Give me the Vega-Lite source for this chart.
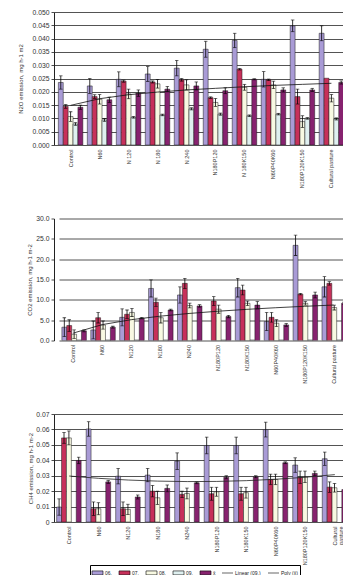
{
  "$schema": "https://vega.github.io/schema/vega-lite/v6.json",
  "background": "#ffffff",
  "padding": {"left": 16, "top": 9, "right": 0, "bottom": 0},
  "bounds": "flush",
  "spacing": 73.5,
  "config": {
    "font": "Liberation Sans",
    "view": {"stroke": null},
    "axis": {"labelFont": "Liberation Sans", "titleFont": "Liberation Sans", "labelColor": "#333333", "titleColor": "#333333", "titleFontWeight": "normal", "domainColor": "#222222", "tickColor": "#222222", "domainWidth": 1, "tickWidth": 0.8},
    "axisX": {"labelAngle": -90, "labelFontSize": 5.5, "ticks": false, "domain": false, "grid": false, "labelPadding": 4},
    "axisY": {"labelFontSize": 6.8, "titleFontSize": 6, "tickSize": 3, "labelPadding": 2, "gridColor": "#404040", "gridWidth": 0.9, "grid": true, "titleBaseline": "middle", "tickCount": 20, "labelOverlap": false}
  },
  "resolve": {"scale": {"color": "shared"}, "legend": {"color": "shared"}},
  "datasets": {
    "n2o": [
      {"g": "Control", "s": "06.", "v": 0.0235, "hi": 0.026, "lo": 0.021},
      {"g": "Control", "s": "07.", "v": 0.0145, "hi": 0.0152, "lo": 0.0138},
      {"g": "Control", "s": "08.", "v": 0.0107, "hi": 0.0125, "lo": 0.0089},
      {"g": "Control", "s": "09.", "v": 0.0079, "hi": 0.0084, "lo": 0.0074},
      {"g": "Control", "s": "x̄", "v": 0.0142, "hi": 0.015, "lo": 0.0134},
      {"g": "N60", "s": "06.", "v": 0.0222, "hi": 0.025, "lo": 0.0194},
      {"g": "N60", "s": "07.", "v": 0.0182, "hi": 0.0189, "lo": 0.0175},
      {"g": "N60", "s": "08.", "v": 0.0172, "hi": 0.019, "lo": 0.0154},
      {"g": "N60", "s": "09.", "v": 0.0094, "hi": 0.0099, "lo": 0.0089},
      {"g": "N60", "s": "x̄", "v": 0.017, "hi": 0.018, "lo": 0.016},
      {"g": "N 120", "s": "06.", "v": 0.0247, "hi": 0.0275, "lo": 0.0219},
      {"g": "N 120", "s": "07.", "v": 0.024, "hi": 0.0244, "lo": 0.0236},
      {"g": "N 120", "s": "08.", "v": 0.0192, "hi": 0.021, "lo": 0.0174},
      {"g": "N 120", "s": "09.", "v": 0.0104, "hi": 0.0107, "lo": 0.0101},
      {"g": "N 120", "s": "x̄", "v": 0.0195, "hi": 0.0207, "lo": 0.0183},
      {"g": "N 180", "s": "06.", "v": 0.0267, "hi": 0.0295, "lo": 0.0239},
      {"g": "N 180", "s": "07.", "v": 0.0237, "hi": 0.0241, "lo": 0.0233},
      {"g": "N 180", "s": "08.", "v": 0.023, "hi": 0.0246, "lo": 0.0214},
      {"g": "N 180", "s": "09.", "v": 0.0113, "hi": 0.0116, "lo": 0.011},
      {"g": "N 180", "s": "x̄", "v": 0.021, "hi": 0.022, "lo": 0.02},
      {"g": "N 240", "s": "06.", "v": 0.0289, "hi": 0.0318, "lo": 0.026},
      {"g": "N 240", "s": "07.", "v": 0.0245, "hi": 0.025, "lo": 0.024},
      {"g": "N 240", "s": "08.", "v": 0.0226, "hi": 0.0245, "lo": 0.0207},
      {"g": "N 240", "s": "09.", "v": 0.0136, "hi": 0.014, "lo": 0.0132},
      {"g": "N 240", "s": "x̄", "v": 0.0222, "hi": 0.0237, "lo": 0.0207},
      {"g": "N180P120", "s": "06.", "v": 0.036, "hi": 0.039, "lo": 0.033},
      {"g": "N180P120", "s": "07.", "v": 0.0178, "hi": 0.0181, "lo": 0.0175},
      {"g": "N180P120", "s": "08.", "v": 0.016, "hi": 0.0175, "lo": 0.0145},
      {"g": "N180P120", "s": "09.", "v": 0.0116, "hi": 0.012, "lo": 0.0112},
      {"g": "N180P120", "s": "x̄", "v": 0.0204, "hi": 0.0215, "lo": 0.0193},
      {"g": "N 180K150", "s": "06.", "v": 0.0393, "hi": 0.042, "lo": 0.0366},
      {"g": "N 180K150", "s": "07.", "v": 0.0285, "hi": 0.0288, "lo": 0.0282},
      {"g": "N 180K150", "s": "08.", "v": 0.0217, "hi": 0.0228, "lo": 0.0206},
      {"g": "N 180K150", "s": "09.", "v": 0.011, "hi": 0.0113, "lo": 0.0107},
      {"g": "N 180K150", "s": "x̄", "v": 0.0247, "hi": 0.0249, "lo": 0.0245},
      {"g": "N60P40K60", "s": "06.", "v": 0.0247, "hi": 0.0276, "lo": 0.0218},
      {"g": "N60P40K60", "s": "07.", "v": 0.0245, "hi": 0.0248, "lo": 0.0242},
      {"g": "N60P40K60", "s": "08.", "v": 0.0226, "hi": 0.024, "lo": 0.0212},
      {"g": "N60P40K60", "s": "09.", "v": 0.0116, "hi": 0.0119, "lo": 0.0113},
      {"g": "N60P40K60", "s": "x̄", "v": 0.0207, "hi": 0.0215, "lo": 0.0199},
      {"g": "N180P120K150", "s": "06.", "v": 0.0448, "hi": 0.047, "lo": 0.0426},
      {"g": "N180P120K150", "s": "07.", "v": 0.0182, "hi": 0.021, "lo": 0.0154},
      {"g": "N180P120K150", "s": "08.", "v": 0.0088, "hi": 0.011, "lo": 0.0066},
      {"g": "N180P120K150", "s": "09.", "v": 0.01, "hi": 0.0103, "lo": 0.0097},
      {"g": "N180P120K150", "s": "x̄", "v": 0.0207, "hi": 0.0213, "lo": 0.0201},
      {"g": "Cultural pasture", "s": "06.", "v": 0.042, "hi": 0.0448, "lo": 0.0392},
      {"g": "Cultural pasture", "s": "07.", "v": 0.0251},
      {"g": "Cultural pasture", "s": "08.", "v": 0.0176, "hi": 0.019, "lo": 0.0162},
      {"g": "Cultural pasture", "s": "09.", "v": 0.0098, "hi": 0.0102, "lo": 0.0094},
      {"g": "Cultural pasture", "s": "x̄", "v": 0.0235, "hi": 0.0241, "lo": 0.0229}
    ],
    "n2oT": [
      {"g": "Control", "t": 0.0149}, {"g": "N60", "t": 0.0174}, {"g": "N 120", "t": 0.0189}, {"g": "N 180", "t": 0.0199}, {"g": "N 240", "t": 0.0207},
      {"g": "N180P120", "t": 0.0213}, {"g": "N 180K150", "t": 0.0219}, {"g": "N60P40K60", "t": 0.0224}, {"g": "N180P120K150", "t": 0.0228}, {"g": "Cultural pasture", "t": 0.0232}
    ],
    "co2": [
      {"g": "Control", "s": "06.", "v": 3.27, "hi": 5.6, "lo": 0.94},
      {"g": "Control", "s": "07.", "v": 3.68, "hi": 5.1, "lo": 2.26},
      {"g": "Control", "s": "08.", "v": 1.55, "hi": 2.6, "lo": 0.5},
      {"g": "Control", "s": "09.", "v": 0.12},
      {"g": "Control", "s": "x̄", "v": 2.37, "hi": 2.6, "lo": 2.14},
      {"g": "N60", "s": "06.", "v": 2.6, "hi": 4.8, "lo": 0.4},
      {"g": "N60", "s": "07.", "v": 5.6, "hi": 6.9, "lo": 4.3},
      {"g": "N60", "s": "08.", "v": 3.8, "hi": 4.8, "lo": 2.8},
      {"g": "N60", "s": "09.", "v": 0.12},
      {"g": "N60", "s": "x̄", "v": 3.27, "hi": 3.5, "lo": 3.04},
      {"g": "N120", "s": "06.", "v": 5.7, "hi": 7.8, "lo": 3.6},
      {"g": "N120", "s": "07.", "v": 6.45, "hi": 7.5, "lo": 5.4},
      {"g": "N120", "s": "08.", "v": 6.9, "hi": 7.9, "lo": 5.9},
      {"g": "N120", "s": "09.", "v": 0.12},
      {"g": "N120", "s": "x̄", "v": 5.5, "hi": 5.7, "lo": 5.3},
      {"g": "N180", "s": "06.", "v": 12.8, "hi": 14.9, "lo": 10.7},
      {"g": "N180", "s": "07.", "v": 9.4, "hi": 10.4, "lo": 8.4},
      {"g": "N180", "s": "08.", "v": 5.6, "hi": 6.9, "lo": 4.3},
      {"g": "N180", "s": "09.", "v": 0.12},
      {"g": "N180", "s": "x̄", "v": 7.5, "hi": 7.7, "lo": 7.3},
      {"g": "N240", "s": "06.", "v": 11.2, "hi": 13.2, "lo": 9.2},
      {"g": "N240", "s": "07.", "v": 14.05, "hi": 15.3, "lo": 12.8},
      {"g": "N240", "s": "08.", "v": 8.6, "hi": 9.2, "lo": 8.0},
      {"g": "N240", "s": "09.", "v": 0.12},
      {"g": "N240", "s": "x̄", "v": 8.5, "hi": 8.8, "lo": 8.2},
      {"g": "N180P120", "s": "07.", "v": 9.7, "hi": 10.8, "lo": 8.6},
      {"g": "N180P120", "s": "08.", "v": 7.7, "hi": 8.7, "lo": 6.7},
      {"g": "N180P120", "s": "09.", "v": 0.12},
      {"g": "N180P120", "s": "x̄", "v": 5.9, "hi": 6.2, "lo": 5.6},
      {"g": "N180K150", "s": "06.", "v": 13.0, "hi": 15.3, "lo": 10.7},
      {"g": "N180K150", "s": "07.", "v": 12.4, "hi": 13.6, "lo": 11.2},
      {"g": "N180K150", "s": "08.", "v": 9.15, "hi": 9.7, "lo": 8.6},
      {"g": "N180K150", "s": "09.", "v": 0.12},
      {"g": "N180K150", "s": "x̄", "v": 8.7, "hi": 9.6, "lo": 7.8},
      {"g": "N60P40K60", "s": "06.", "v": 4.66, "hi": 6.9, "lo": 2.42},
      {"g": "N60P40K60", "s": "07.", "v": 5.7, "hi": 6.9, "lo": 4.5},
      {"g": "N60P40K60", "s": "08.", "v": 4.25, "hi": 5.1, "lo": 3.4},
      {"g": "N60P40K60", "s": "09.", "v": 0.12},
      {"g": "N60P40K60", "s": "x̄", "v": 3.84, "hi": 4.2, "lo": 3.48},
      {"g": "N180P120K150", "s": "06.", "v": 23.4, "hi": 25.9, "lo": 20.9},
      {"g": "N180P120K150", "s": "07.", "v": 11.4, "hi": 11.6, "lo": 11.2},
      {"g": "N180P120K150", "s": "08.", "v": 9.15, "hi": 9.6, "lo": 8.7},
      {"g": "N180P120K150", "s": "09.", "v": 0.12},
      {"g": "N180P120K150", "s": "x̄", "v": 11.2, "hi": 11.9, "lo": 10.5},
      {"g": "Cultural pasture", "s": "06.", "v": 13.2, "hi": 15.7, "lo": 10.7},
      {"g": "Cultural pasture", "s": "07.", "v": 14.05, "hi": 14.5, "lo": 13.6},
      {"g": "Cultural pasture", "s": "08.", "v": 8.1, "hi": 8.7, "lo": 7.5},
      {"g": "Cultural pasture", "s": "09.", "v": 0.12},
      {"g": "Cultural pasture", "s": "x̄", "v": 9.15, "hi": 9.4, "lo": 8.9}
    ],
    "co2T": [
      {"g": "Control", "t": 1.84}, {"g": "N60", "t": 3.91}, {"g": "N120", "t": 5.12}, {"g": "N180", "t": 5.98}, {"g": "N240", "t": 6.65},
      {"g": "N180P120", "t": 7.2}, {"g": "N180K150", "t": 7.66}, {"g": "N60P40K60", "t": 8.06}, {"g": "N180P120K150", "t": 8.41}, {"g": "Cultural pasture", "t": 8.72}
    ],
    "ch4": [
      {"g": "Control", "s": "06.", "v": 0.0097, "hi": 0.015, "lo": 0.0044},
      {"g": "Control", "s": "07.", "v": 0.0545, "hi": 0.058, "lo": 0.051},
      {"g": "Control", "s": "08.", "v": 0.0545, "hi": 0.059, "lo": 0.05},
      {"g": "Control", "s": "x̄", "v": 0.0399, "hi": 0.042, "lo": 0.0378},
      {"g": "N60", "s": "06.", "v": 0.0603, "hi": 0.065, "lo": 0.0556},
      {"g": "N60", "s": "07.", "v": 0.0086, "hi": 0.013, "lo": 0.0042},
      {"g": "N60", "s": "08.", "v": 0.0086, "hi": 0.0125, "lo": 0.0047},
      {"g": "N60", "s": "x̄", "v": 0.026, "hi": 0.027, "lo": 0.025},
      {"g": "N120", "s": "06.", "v": 0.0297, "hi": 0.0347, "lo": 0.0247},
      {"g": "N120", "s": "07.", "v": 0.0086, "hi": 0.013, "lo": 0.0042},
      {"g": "N120", "s": "08.", "v": 0.0082, "hi": 0.0115, "lo": 0.0049},
      {"g": "N120", "s": "x̄", "v": 0.0162, "hi": 0.0175, "lo": 0.0149},
      {"g": "N180", "s": "06.", "v": 0.0304, "hi": 0.0347, "lo": 0.0261},
      {"g": "N180", "s": "07.", "v": 0.02, "hi": 0.0237, "lo": 0.0163},
      {"g": "N180", "s": "08.", "v": 0.0157, "hi": 0.02, "lo": 0.0114},
      {"g": "N180", "s": "x̄", "v": 0.0218, "hi": 0.024, "lo": 0.0196},
      {"g": "N240", "s": "06.", "v": 0.0394, "hi": 0.0448, "lo": 0.034},
      {"g": "N240", "s": "07.", "v": 0.0179, "hi": 0.02, "lo": 0.0158},
      {"g": "N240", "s": "08.", "v": 0.0185, "hi": 0.022, "lo": 0.015},
      {"g": "N240", "s": "x̄", "v": 0.0254, "hi": 0.026, "lo": 0.0248},
      {"g": "N180P120", "s": "06.", "v": 0.0496, "hi": 0.055, "lo": 0.0442},
      {"g": "N180P120", "s": "07.", "v": 0.0183, "hi": 0.0225, "lo": 0.0141},
      {"g": "N180P120", "s": "08.", "v": 0.0196, "hi": 0.0225, "lo": 0.0167},
      {"g": "N180P120", "s": "x̄", "v": 0.029, "hi": 0.03, "lo": 0.028},
      {"g": "N180K150", "s": "06.", "v": 0.0496, "hi": 0.055, "lo": 0.0442},
      {"g": "N180K150", "s": "07.", "v": 0.0183, "hi": 0.0225, "lo": 0.0141},
      {"g": "N180K150", "s": "08.", "v": 0.019, "hi": 0.0225, "lo": 0.0155},
      {"g": "N180K150", "s": "x̄", "v": 0.0293, "hi": 0.03, "lo": 0.0286},
      {"g": "N60P40K60", "s": "06.", "v": 0.0599, "hi": 0.0647, "lo": 0.0551},
      {"g": "N60P40K60", "s": "07.", "v": 0.0276, "hi": 0.031, "lo": 0.0242},
      {"g": "N60P40K60", "s": "08.", "v": 0.0276, "hi": 0.031, "lo": 0.0242},
      {"g": "N60P40K60", "s": "x̄", "v": 0.0384, "hi": 0.039, "lo": 0.0378},
      {"g": "N180P120K150", "s": "06.", "v": 0.0369, "hi": 0.0416, "lo": 0.0322},
      {"g": "N180P120K150", "s": "07.", "v": 0.029, "hi": 0.033, "lo": 0.025},
      {"g": "N180P120K150", "s": "08.", "v": 0.0293, "hi": 0.033, "lo": 0.0256},
      {"g": "N180P120K150", "s": "x̄", "v": 0.0315, "hi": 0.033, "lo": 0.03},
      {"g": "Cultural pasture", "s": "06.", "v": 0.041, "hi": 0.0453, "lo": 0.0367},
      {"g": "Cultural pasture", "s": "07.", "v": 0.0226, "hi": 0.026, "lo": 0.0192},
      {"g": "Cultural pasture", "s": "08.", "v": 0.0222, "hi": 0.025, "lo": 0.0194},
      {"g": "Cultural pasture", "s": "x̄", "v": 0.021}
    ],
    "ch4T": [
      {"g": "Control", "t": 0.0298}, {"g": "N60", "t": 0.0283}, {"g": "N120", "t": 0.0272}, {"g": "N180", "t": 0.0265}, {"g": "N240", "t": 0.0262},
      {"g": "N180P120", "t": 0.0263}, {"g": "N180K150", "t": 0.0268}, {"g": "N60P40K60", "t": 0.0277}, {"g": "N180P120K150", "t": 0.029}, {"g": "Cultural pasture", "t": 0.0307}
    ]
  },
  "vconcat": [
    {
      "width": 290,
      "height": 133,
      "layer": [
        {
          "data": {"name": "n2o"},
          "mark": {"type": "bar", "stroke": "#1a1a1a", "strokeWidth": 0.5, "clip": true},
          "encoding": {
            "x": {"field": "g", "type": "nominal", "title": null,
              "scale": {"domain": ["Control", "N60", "N 120", "N 180", "N 240", "N180P120", "N 180K150", "N60P40K60", "N180P120K150", "Cultural pasture"], "range": [0, 294], "paddingInner": 0.155, "paddingOuter": 0.15}},
            "xOffset": {"field": "s", "type": "nominal", "scale": {"domain": ["06.", "07.", "08.", "09.", "x̄"], "paddingInner": 0, "paddingOuter": 0}},
            "y": {"field": "v", "type": "quantitative", "title": "N2O emission, mg h-1 m2",
              "scale": {"domain": [0, 0.05], "nice": false},
              "axis": {"values": [0, 0.005, 0.01, 0.015, 0.02, 0.025, 0.03, 0.035, 0.04, 0.045, 0.05], "format": ".3f", "titleX": -34, "tickCount": 20, "labelOverlap": false}},
            "color": {"field": "s", "type": "nominal",
              "scale": {"domain": ["06.", "07.", "08.", "09.", "x̄", "Linear (09.)", "Poly (x̄)"], "range": ["#a99bd6", "#c7305a", "#f8f9e2", "#dff0f0", "#87226f", "#000000", "#000000"]},
              "legend": {"title": null, "orient": "none", "legendX": 36, "legendY": 553, "direction": "horizontal",
                "symbolType": "M-1,-0.36H1V0.36H-1Z", "symbolSize": 121, "symbolStrokeColor": "#000000", "symbolStrokeWidth": 0.6,
                "labelFontSize": 5, "labelFont": "Liberation Sans", "labelColor": "#222222", "labelOffset": 1.5, "columnPadding": 5,
                "padding": 1.5, "strokeColor": "#000000", "fillColor": "#ffffff",
                "encode": {"symbols": {"update": {"shape": {"signal": "indexof(datum.label, '(') > 0 ? 'M-1,0H1' : 'M-1,-0.36H1V0.36H-1Z'"}}}}}}
          }
        },
        {
          "data": {"name": "n2o"},
          "transform": [{"filter": "isValid(datum.hi)"}],
          "mark": {"type": "rule", "color": "#000000", "strokeWidth": 0.8, "clip": true},
          "encoding": {
            "x": {"field": "g", "type": "nominal", "title": null},
            "xOffset": {"field": "s", "type": "nominal"},
            "y": {"field": "lo", "type": "quantitative"},
            "y2": {"field": "hi"}
          }
        },
        {
          "data": {"name": "n2o"},
          "transform": [{"filter": "isValid(datum.hi)"}],
          "mark": {"type": "tick", "orient": "horizontal", "size": 3.5, "thickness": 0.8, "color": "#000000", "clip": true},
          "encoding": {
            "x": {"field": "g", "type": "nominal", "title": null},
            "xOffset": {"field": "s", "type": "nominal"},
            "y": {"field": "hi", "type": "quantitative"}
          }
        },
        {
          "data": {"name": "n2o"},
          "transform": [{"filter": "isValid(datum.hi)"}],
          "mark": {"type": "tick", "orient": "horizontal", "size": 3.5, "thickness": 0.8, "color": "#000000", "clip": true},
          "encoding": {
            "x": {"field": "g", "type": "nominal", "title": null},
            "xOffset": {"field": "s", "type": "nominal"},
            "y": {"field": "lo", "type": "quantitative"}
          }
        },
        {
          "data": {"name": "n2oT"},
          "mark": {"type": "line", "color": "#111111", "strokeWidth": 0.8},
          "encoding": {
            "x": {"field": "g", "type": "nominal", "title": null},
            "y": {"field": "t", "type": "quantitative"}
          }
        },
        {
          "mark": {"type": "text", "text": "y = 0.0036Ln(x) + 0.0149", "fontSize": 6.8, "color": "#333333", "dx": 2},
          "encoding": {"x": {"datum": "N 120"}, "y": {"datum": 0.0436}}
        },
        {
          "mark": {"type": "text", "text": "R² = 0.7129", "fontSize": 6.8, "color": "#333333", "dx": 4},
          "encoding": {"x": {"datum": "N 120"}, "y": {"datum": 0.0399}}
        }
      ]
    },
    {
      "width": 290,
      "height": 122,
      "layer": [
        {
          "data": {"name": "co2"},
          "mark": {"type": "bar", "stroke": "#1a1a1a", "strokeWidth": 0.5, "clip": true},
          "encoding": {
            "x": {"field": "g", "type": "nominal", "title": null,
              "scale": {"domain": ["Control", "N60", "N120", "N180", "N240", "N180P120", "N180K150", "N60P40K60", "N180P120K150", "Cultural pasture"], "range": [5, 294], "paddingInner": 0.2, "paddingOuter": 0.1}},
            "xOffset": {"field": "s", "type": "nominal", "scale": {"domain": ["06.", "07.", "08.", "09.", "x̄"], "paddingInner": 0, "paddingOuter": 0}},
            "y": {"field": "v", "type": "quantitative", "title": "CO2 emission, mg h-1 m-2",
              "scale": {"domain": [0, 30], "nice": false},
              "axis": {"values": [0, 5, 10, 15, 20, 25, 30], "format": ".1f", "titleX": -25, "tickCount": 20, "labelOverlap": false}},
            "color": {"field": "s", "type": "nominal",
              "scale": {"domain": ["06.", "07.", "08.", "09.", "x̄", "Linear (09.)", "Poly (x̄)"], "range": ["#a99bd6", "#c7305a", "#f8f9e2", "#dff0f0", "#87226f", "#000000", "#000000"]}}
          }
        },
        {
          "data": {"name": "co2"},
          "transform": [{"filter": "isValid(datum.hi)"}],
          "mark": {"type": "rule", "color": "#000000", "strokeWidth": 0.8, "clip": true},
          "encoding": {
            "x": {"field": "g", "type": "nominal", "title": null},
            "xOffset": {"field": "s", "type": "nominal"},
            "y": {"field": "lo", "type": "quantitative"},
            "y2": {"field": "hi"}
          }
        },
        {
          "data": {"name": "co2"},
          "transform": [{"filter": "isValid(datum.hi)"}],
          "mark": {"type": "tick", "orient": "horizontal", "size": 3.5, "thickness": 0.8, "color": "#000000", "clip": true},
          "encoding": {
            "x": {"field": "g", "type": "nominal", "title": null},
            "xOffset": {"field": "s", "type": "nominal"},
            "y": {"field": "hi", "type": "quantitative"}
          }
        },
        {
          "data": {"name": "co2"},
          "transform": [{"filter": "isValid(datum.hi)"}],
          "mark": {"type": "tick", "orient": "horizontal", "size": 3.5, "thickness": 0.8, "color": "#000000", "clip": true},
          "encoding": {
            "x": {"field": "g", "type": "nominal", "title": null},
            "xOffset": {"field": "s", "type": "nominal"},
            "y": {"field": "lo", "type": "quantitative"}
          }
        },
        {
          "data": {"name": "co2T"},
          "mark": {"type": "line", "color": "#111111", "strokeWidth": 0.8},
          "encoding": {
            "x": {"field": "g", "type": "nominal", "title": null},
            "y": {"field": "t", "type": "quantitative"}
          }
        },
        {
          "mark": {"type": "text", "text": "y = 2.9889Ln(x) + 1.8408", "fontSize": 6.8, "color": "#333333", "dx": -6},
          "encoding": {"x": {"datum": "N180P120"}, "y": {"datum": 25.1}}
        },
        {
          "mark": {"type": "text", "text": "R² = 0.5566", "fontSize": 6.8, "color": "#333333", "dx": -10},
          "encoding": {"x": {"datum": "N180P120"}, "y": {"datum": 22.8}}
        }
      ]
    },
    {
      "width": 290,
      "height": 108,
      "layer": [
        {
          "data": {"name": "ch4"},
          "mark": {"type": "bar", "stroke": "#1a1a1a", "strokeWidth": 0.5, "clip": true},
          "encoding": {
            "x": {"field": "g", "type": "nominal", "title": null,
              "scale": {"domain": ["Control", "N60", "N120", "N180", "N240", "N180P120", "N180K150", "N60P40K60", "N180P120K150", "Cultural pasture"], "range": [0, 296], "paddingInner": 0.15, "paddingOuter": 0.09},
              "axis": {"labelExpr": "datum.label == 'Cultural pasture' ? ['Cultural', 'pasture'] : datum.label", "labelLineHeight": 6}},
            "xOffset": {"field": "s", "type": "nominal", "scale": {"domain": ["06.", "07.", "08.", "09.", "x̄"], "paddingInner": 0, "paddingOuter": 0}},
            "y": {"field": "v", "type": "quantitative", "title": "CH4 emission, mg h-1 m-2",
              "scale": {"domain": [0, 0.07], "nice": false},
              "axis": {"values": [0, 0.01, 0.02, 0.03, 0.04, 0.05, 0.06, 0.07], "labelExpr": "datum.value == 0 ? '0' : format(datum.value, '.2f')", "titleX": -24, "tickCount": 20, "labelOverlap": false}},
            "color": {"field": "s", "type": "nominal",
              "scale": {"domain": ["06.", "07.", "08.", "09.", "x̄", "Linear (09.)", "Poly (x̄)"], "range": ["#a99bd6", "#c7305a", "#f8f9e2", "#dff0f0", "#87226f", "#000000", "#000000"]}}
          }
        },
        {
          "data": {"name": "ch4"},
          "transform": [{"filter": "isValid(datum.hi)"}],
          "mark": {"type": "rule", "color": "#000000", "strokeWidth": 0.8, "clip": true},
          "encoding": {
            "x": {"field": "g", "type": "nominal", "title": null},
            "xOffset": {"field": "s", "type": "nominal"},
            "y": {"field": "lo", "type": "quantitative"},
            "y2": {"field": "hi"}
          }
        },
        {
          "data": {"name": "ch4"},
          "transform": [{"filter": "isValid(datum.hi)"}],
          "mark": {"type": "tick", "orient": "horizontal", "size": 3.5, "thickness": 0.8, "color": "#000000", "clip": true},
          "encoding": {
            "x": {"field": "g", "type": "nominal", "title": null},
            "xOffset": {"field": "s", "type": "nominal"},
            "y": {"field": "hi", "type": "quantitative"}
          }
        },
        {
          "data": {"name": "ch4"},
          "transform": [{"filter": "isValid(datum.hi)"}],
          "mark": {"type": "tick", "orient": "horizontal", "size": 3.5, "thickness": 0.8, "color": "#000000", "clip": true},
          "encoding": {
            "x": {"field": "g", "type": "nominal", "title": null},
            "xOffset": {"field": "s", "type": "nominal"},
            "y": {"field": "lo", "type": "quantitative"}
          }
        },
        {
          "data": {"name": "ch4T"},
          "mark": {"type": "line", "color": "#222222", "strokeWidth": 0.8},
          "encoding": {
            "x": {"field": "g", "type": "nominal", "title": null},
            "y": {"field": "t", "type": "quantitative"}
          }
        },
        {
          "mark": {"type": "text", "text": "y = 0.0002x² - 0.0021x + 0.0317", "fontSize": 6.3, "color": "#333333", "dx": -10},
          "encoding": {"x": {"datum": "N240"}, "y": {"datum": 0.0613}}
        },
        {
          "mark": {"type": "text", "text": "R² = 0.0422", "fontSize": 6.3, "color": "#333333", "dx": -19},
          "encoding": {"x": {"datum": "N240"}, "y": {"datum": 0.0553}}
        }
      ]
    }
  ]
}
